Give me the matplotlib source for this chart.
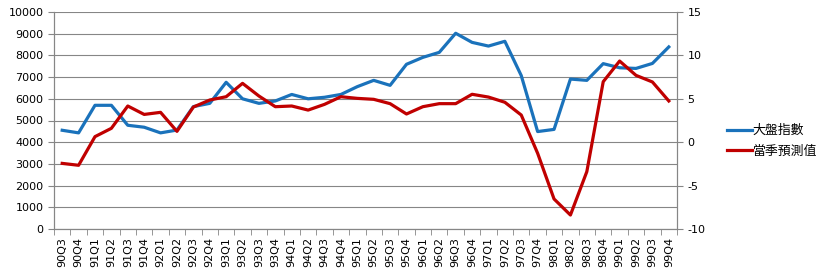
import matplotlib.pyplot as plt
import numpy as np

plt.rcParams['font.family'] = ['DejaVu Sans', 'Noto Sans CJK TC']
plt.rcParams['axes.unicode_minus'] = False

# quarters 90Q3 .. 99Q4
quarters = ['90Q3', '90Q4'] + [f'{y}Q{q}' for y in range(91, 100) for q in range(1, 5)]

# 大盤指數 (left axis)
index_vals = [4550, 4430, 5700, 5700, 4780, 4690, 4430, 4560, 5640, 5790,
              6760, 6000, 5790, 5900, 6200, 6000, 6070, 6200, 6560, 6850,
              6620, 7590, 7910, 8140, 9020, 8600, 8430, 8650, 7070, 4490,
              4590, 6910, 6850, 7620, 7430, 7400, 7630, 8390]

# 當季預測值 (right axis)
forecast_vals = [-2.44, -2.66, 0.64, 1.6, 4.17, 3.2, 3.44, 1.25, 4.05, 4.86,
                 5.24, 6.78, 5.32, 4.09, 4.17, 3.7, 4.36, 5.24, 5.05, 4.94,
                 4.44, 3.25, 4.09, 4.44, 4.44, 5.52, 5.2, 4.6, 3.13, -1.28,
                 -6.54, -8.39, -3.39, 6.97, 9.35, 7.7, 6.94, 4.75]

blue = '#1a72bb'
red = '#c00000'
grey = '#868686'

fig = plt.figure(figsize=(8.32, 2.8), dpi=100)
ax = fig.add_axes([54 / 832, 1 - 229 / 280, (677 - 54) / 832, 217 / 280])
ax2 = ax.twinx()

x = np.arange(len(quarters))
l1, = ax.plot(x, index_vals, color=blue, lw=2.3, label='大盤指數')
l2, = ax2.plot(x, forecast_vals, color=red, lw=2.3, label='當季預測值')

ax.set_xlim(-0.5, len(quarters) - 0.5)
ax.set_ylim(0, 10000)
ax.set_yticks(range(0, 10001, 1000))
ax2.set_ylim(-10, 15)
ax2.set_yticks(range(-10, 16, 5))

ax.set_xticks(x)
ax.set_xticklabels(quarters, rotation=90, fontsize=8)
ax.set_xticks(np.arange(-0.5, len(quarters), 1), minor=True)
ax.tick_params(axis='x', which='major', length=0, pad=6)
ax.tick_params(axis='x', which='minor', length=4, color=grey)
ax.tick_params(axis='y', length=4, color=grey, labelsize=8)
ax2.tick_params(axis='y', length=4, color=grey, labelsize=8)

ax.grid(axis='y', color=grey, lw=0.8)
ax.set_axisbelow(True)
for a in (ax, ax2):
    a.spines['top'].set_visible(False)
    for s in ('left', 'bottom', 'right'):
        a.spines[s].set_color(grey)
        a.spines[s].set_linewidth(0.8)

fig.legend(handles=[l1, l2], loc='center left', bbox_to_anchor=(715 / 832, 1 - 141 / 280),
           frameon=False, handlelength=2.0, handletextpad=0.0,
           labelspacing=0.6, prop={'family': ['Noto Sans CJK TC'], 'size': 9.3})

fig.savefig('out.png', dpi=100)
